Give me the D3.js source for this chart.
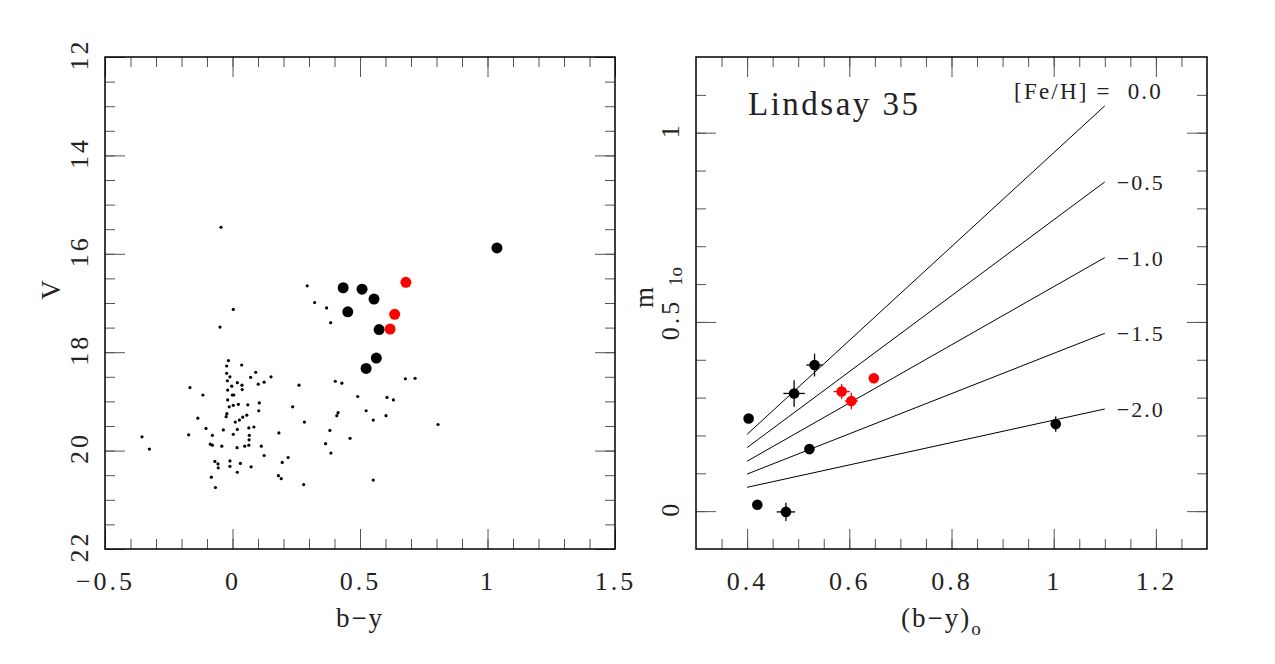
<!DOCTYPE html>
<html>
<head>
<meta charset="utf-8">
<script src="https://cdn.jsdelivr.net/npm/d3@7"></script>
<style>
  body { margin: 0; background: #fff; }
  svg text { font-family: "Liberation Serif", "Times New Roman", serif; fill: #222; }
</style>
</head>
<body>
<svg id="chart" width="1275" height="664"></svg>
<script>
// field stars in the CMD: [b-y, V]
const fieldStars = [
  [-0.049, 17.49], [-0.016, 18.17], [0.036, 18.26], [-0.023, 18.28], [-0.023, 18.43], [0.091, 18.41],
  [-0.010, 18.50], [0.071, 18.51], [0.151, 18.50], [-0.020, 18.58], [0.124, 18.61], [0.019, 18.62],
  [0.101, 18.65], [0.261, 18.67], [-0.003, 18.69], [0.037, 18.67], [-0.167, 18.72], [-0.019, 18.77],
  [0.038, 18.76], [-0.001, 18.87], [0.005, 18.87], [-0.116, 18.87], [-0.019, 18.97], [0.105, 19.03],
  [0.023, 19.06], [0.003, 19.08], [0.060, 19.07], [-0.013, 19.11], [0.236, 19.11], [0.103, 19.19],
  [-0.022, 19.25], [-0.025, 19.31], [0.056, 19.28], [0.040, 19.32], [0.027, 19.38], [0.011, 19.42],
  [-0.136, 19.34], [0.282, 19.42], [-0.104, 19.55], [0.084, 19.52], [0.064, 19.54], [0.019, 19.57],
  [-0.036, 19.58], [0.182, 19.64], [0.066, 19.69], [0.003, 19.67], [-0.172, 19.68], [-0.079, 19.69],
  [-0.355, 19.72], [0.065, 19.78], [-0.087, 19.87], [-0.079, 19.89], [-0.042, 19.91], [0.064, 19.89],
  [0.048, 19.91], [0.018, 19.94], [0.113, 19.91], [-0.326, 19.97], [0.124, 20.10], [0.218, 20.14],
  [0.195, 20.24], [-0.069, 20.22], [-0.010, 20.21], [-0.057, 20.27], [0.031, 20.26], [-0.056, 20.35],
  [-0.010, 20.32], [0.073, 20.33], [0.019, 20.44], [0.180, 20.51], [0.191, 20.57], [-0.083, 20.54],
  [0.279, 20.69], [-0.067, 20.75], [0.293, 16.65], [0.322, 16.99], [0.369, 17.10], [0.385, 17.40],
  [0.403, 18.59], [0.429, 18.63], [0.678, 18.54], [0.716, 18.53], [0.491, 18.90], [0.606, 18.92],
  [0.631, 18.97], [0.414, 19.23], [0.409, 19.29], [0.524, 19.19], [0.602, 19.29], [0.552, 19.38],
  [0.806, 19.47], [0.382, 19.59], [0.461, 19.75], [0.365, 19.86], [0.386, 20.05], [0.552, 20.60],
  [-0.045, 15.46], [0.003, 17.13]
]

// cluster stars in the CMD: [b-y, V]
const cmdBlack = [
  [0.434, 16.69], [0.508, 16.72], [0.555, 16.92], [0.452, 17.18],
  [0.575, 17.54], [0.564, 18.12], [0.524, 18.33], [1.037, 15.88]
]
const cmdRed = [[0.680, 16.58], [0.636, 17.23], [0.618, 17.53]]

// m1 diagram: [(b-y)o, m1o, err (b-y), err m1]
const m1Black = [
  [0.403, 0.245, 0, 0], [0.532, 0.386, 0.016, 0.03], [0.492, 0.311, 0.021, 0.035],
  [0.522, 0.164, 0, 0], [0.420, 0.017, 0, 0], [0.476, -0.002, 0.018, 0.024],
  [1.004, 0.230, 0.01, 0.02]
]
const m1Red = [[0.585, 0.316, 0.016, 0.02], [0.604, 0.291, 0.013, 0.022], [0.648, 0.351, 0, 0]]

// iso-metallicity lines, from (b-y)o = 0.4 to 1.1
const isoFeH = ['0.0', '\u22120.5', '\u22121.0', '\u22121.5', '\u22122.0']
const isoFrom = [0.4, 0.4, 0.4, 0.4, 0.4]
const isoTo = [1.1, 1.1, 1.1, 1.1, 1.1]
const isoStart = [0.203, 0.168, 0.132, 0.098, 0.063]
const isoEnd = [1.071, 0.870, 0.670, 0.470, 0.270]

// tick labels
const cmdXTicks = [-0.5, 0, 0.5, 1, 1.5]
const cmdYTicks = [12, 14, 16, 18, 20, 22]
const m1XTicks = [0.4, 0.6, 0.8, 1, 1.2]
const m1YTicks = [0, 0.5, 1]

const svg = d3.select('#chart')
const plotTop = 57
const plotBottom = 549
const fmt = d3.format('~g')

const xCmd = d3.scaleLinear().domain([-0.5, 1.5]).range([105, 615])
const yCmd = d3.scaleLinear().domain([12, 22]).range([plotTop, plotBottom])
const xM1 = d3.scaleLinear().domain([0.3, 1.3]).range([696, 1207])
const yM1 = d3.scaleLinear().domain([-0.1, 1.2]).range([plotBottom, plotTop])

/**
 * Minor tick values between the domain ends.
 */
function minors (scale, step) {
  const [a, b] = scale.domain()
  const lo = Math.min(a, b)
  const hi = Math.max(a, b)
  const n = Math.round((hi - lo) / step)
  return d3.range(1, n).map(i => lo + i * step)
}

/**
 * Frame with inward ticks on all four sides.
 */
function drawFrame (g, x, y, xMajor, xStep, yMajor, yStep) {
  const left = x.range()[0]
  const right = x.range()[1]
  const xMin = minors(x, xStep)
  const yMin = minors(y, yStep)

  const ax = g.append('g').attr('color', '#555')
  ax.append('g').attr('transform', `translate(0,${plotBottom})`)
    .call(d3.axisBottom(x).tickValues(xMin).tickSize(-10).tickSizeOuter(0).tickFormat(''))
  ax.append('g').attr('transform', `translate(0,${plotTop})`)
    .call(d3.axisTop(x).tickValues(xMin).tickSize(-10).tickSizeOuter(0).tickFormat(''))
  ax.append('g').attr('transform', `translate(0,${plotTop})`)
    .call(d3.axisTop(x).tickValues(xMajor).tickSize(-20).tickSizeOuter(0).tickFormat(''))
  ax.append('g').attr('transform', `translate(${left},0)`)
    .call(d3.axisLeft(y).tickValues(yMin).tickSize(-10).tickSizeOuter(0).tickFormat(''))
  ax.append('g').attr('transform', `translate(${right},0)`)
    .call(d3.axisRight(y).tickValues(yMin).tickSize(-10).tickSizeOuter(0).tickFormat(''))
  ax.append('g').attr('transform', `translate(${right},0)`)
    .call(d3.axisRight(y).tickValues(yMajor).tickSize(-20).tickSizeOuter(0).tickFormat(''))

  const xb = ax.append('g').attr('transform', `translate(0,${plotBottom})`)
    .call(d3.axisBottom(x).tickValues(xMajor).tickSize(-20).tickSizeOuter(0).tickPadding(23).tickFormat(fmt))
  xb.attr('font-size', 26)

  const yl = ax.append('g').attr('transform', `translate(${left},0)`)
    .call(d3.axisLeft(y).tickValues(yMajor).tickSize(-20).tickSizeOuter(0).tickFormat(fmt))
  yl.attr('font-size', 26)
  yl.selectAll('.tick text')
    .attr('x', null)
    .attr('dy', null)
    .attr('text-anchor', 'middle')
    .attr('transform', 'translate(-17,-3) rotate(-90)')

  ax.selectAll('.domain').remove()
  ax.selectAll('.tick text').attr('fill', '#2a2a2a').attr('letter-spacing', 3)

  g.append('rect')
    .attr('x', left)
    .attr('y', plotTop)
    .attr('width', right - left)
    .attr('height', plotBottom - plotTop)
    .attr('fill', 'none')
    .attr('stroke', '#000')
    .attr('stroke-width', 1.5)
}

// ---- left panel: colour-magnitude diagram
const gl = svg.append('g')
drawFrame(gl, xCmd, yCmd, cmdXTicks, 0.1, cmdYTicks, 0.5)

gl.selectAll('.field')
  .data(fieldStars)
  .join('circle')
  .attr('cx', d => xCmd(d[0]))
  .attr('cy', d => yCmd(d[1]))
  .attr('r', 1.6)
  .attr('fill', '#000')

gl.selectAll('.blk')
  .data(cmdBlack)
  .join('circle')
  .attr('cx', d => xCmd(d[0]))
  .attr('cy', d => yCmd(d[1]))
  .attr('r', 5.5)
  .attr('fill', '#000')

gl.selectAll('.red')
  .data(cmdRed)
  .join('circle')
  .attr('cx', d => xCmd(d[0]))
  .attr('cy', d => yCmd(d[1]))
  .attr('r', 5.5)
  .attr('fill', '#f00')

gl.append('text')
  .attr('transform', 'translate(60,290) rotate(-90)')
  .attr('text-anchor', 'middle')
  .attr('font-size', 27)
  .text('V')

gl.append('text')
  .attr('x', 360)
  .attr('y', 627)
  .attr('text-anchor', 'middle')
  .attr('font-size', 27)
  .attr('letter-spacing', 2)
  .text('b\u2212y')

// ---- right panel: m1 vs (b-y)
const gr = svg.append('g')
drawFrame(gr, xM1, yM1, m1XTicks, 0.05, m1YTicks, 0.1)

isoFeH.forEach((lab, i) => {
  gr.append('line')
    .attr('x1', xM1(isoFrom[i]))
    .attr('y1', yM1(isoStart[i]))
    .attr('x2', xM1(isoTo[i]))
    .attr('y2', yM1(isoEnd[i]))
    .attr('stroke', '#000')
    .attr('stroke-width', 1)
  if (i === 0) {
    gr.append('text')
      .attr('x', 1163)
      .attr('y', 99)
      .attr('text-anchor', 'end')
      .attr('font-size', 23)
      .attr('letter-spacing', 2.2)
      .attr('xml:space', 'preserve')
      .text('[Fe/H] =  ' + lab)
  } else {
    gr.append('text')
      .attr('x', xM1(isoTo[i]) + 12)
      .attr('y', yM1(isoEnd[i]) + 8)
      .attr('font-size', 22)
      .attr('letter-spacing', 2)
      .text(lab)
  }
})

/**
 * Points with error crosses.
 */
function m1Points (data, color) {
  const p = gr.append('g')
  p.selectAll('.ex')
    .data(data.filter(d => d[2] > 0))
    .join('line')
    .attr('x1', d => xM1(d[0] - d[2]))
    .attr('x2', d => xM1(d[0] + d[2]))
    .attr('y1', d => yM1(d[1]))
    .attr('y2', d => yM1(d[1]))
    .attr('stroke', color)
    .attr('stroke-width', 1.3)
  p.selectAll('.ey')
    .data(data.filter(d => d[3] > 0))
    .join('line')
    .attr('x1', d => xM1(d[0]))
    .attr('x2', d => xM1(d[0]))
    .attr('y1', d => yM1(d[1] - d[3]))
    .attr('y2', d => yM1(d[1] + d[3]))
    .attr('stroke', color)
    .attr('stroke-width', 1.3)
  p.selectAll('circle')
    .data(data)
    .join('circle')
    .attr('cx', d => xM1(d[0]))
    .attr('cy', d => yM1(d[1]))
    .attr('r', 5.3)
    .attr('fill', color)
}
m1Points(m1Black, '#000')
m1Points(m1Red, '#f00')

gr.append('text')
  .attr('x', 748)
  .attr('y', 115)
  .attr('font-size', 33)
  .attr('letter-spacing', 2.5)
  .text('Lindsay 35')

const ylab = gr.append('text')
  .attr('transform', 'translate(653,308) rotate(-90)')
  .attr('font-size', 27)
ylab.append('tspan').text('m')
ylab.append('tspan').attr('dy', 29).attr('dx', 1).attr('font-size', 19).text('1o')

const xlab = gr.append('text')
  .attr('x', 901)
  .attr('y', 627)
  .attr('font-size', 27)
  .attr('letter-spacing', 2)
xlab.append('tspan').text('(b\u2212y)')
xlab.append('tspan').attr('dy', 8).attr('font-size', 19).text('o')
</script>
</body>
</html>
